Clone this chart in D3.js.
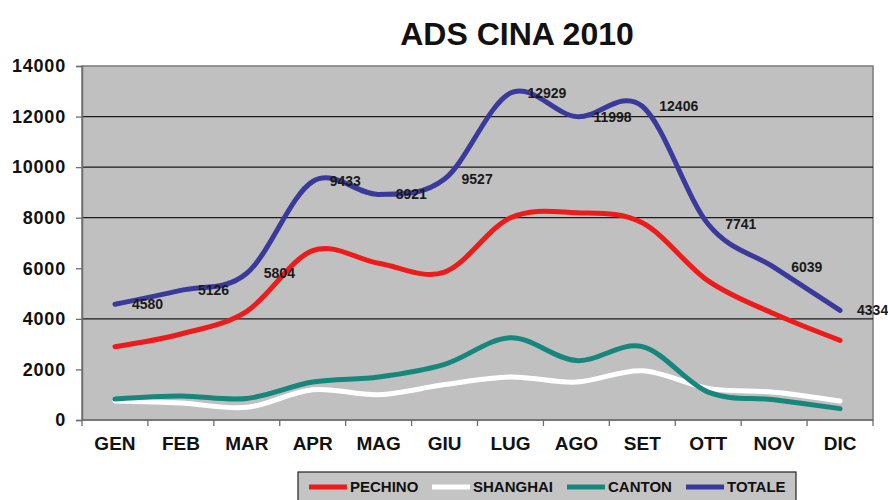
<!DOCTYPE html>
<html>
<head>
<meta charset="utf-8">
<script src="https://cdn.jsdelivr.net/npm/d3@7"></script>
<style>
  html, body { margin: 0; padding: 0; background: #fff; }
  svg { display: block; font-family: "Liberation Sans", Arial, sans-serif; }
</style>
</head>
<body>
<svg id="chart" width="888" height="500"></svg>
<script>
// Monthly arrivals per city, 2010
const months = ["GEN", "FEB", "MAR", "APR", "MAG", "GIU", "LUG", "AGO", "SET", "OTT", "NOV", "DIC"];
const pechino  = [2900, 3400, 4300, 6700, 6200, 5850, 8000, 8200, 7800, 5500, 4200, 3150];
const shanghai = [750, 670, 500, 1200, 1000, 1400, 1700, 1500, 1950, 1250, 1100, 750];
const canton   = [830, 950, 850, 1500, 1700, 2200, 3250, 2350, 2900, 1100, 800, 450];
const totale   = [4580, 5126, 5804, 9433, 8921, 9527, 12929, 11998, 12406, 7741, 6039, 4334];
const yTicks = [0, 2000, 4000, 6000, 8000, 10000, 12000, 14000];
const gridValues = [4000, 8000, 10000, 12000];

const series = [
  { name: "PECHINO",  values: pechino,  color: "#ee1b1b" },
  { name: "SHANGHAI", values: shanghai, color: "#ffffff" },
  { name: "CANTON",   values: canton,   color: "#17867d" },
  { name: "TOTALE",   values: totale,   color: "#3a3a9c" }
];

const svg = d3.select("#chart");
const plot = { left: 82, right: 873, top: 66, bottom: 420 };

const x = d3.scaleBand().domain(months).range([plot.left, plot.right]).padding(0);
const y = d3.scaleLinear().domain([0, 14000]).range([plot.bottom, plot.top]);
const cx = m => x(m) + x.bandwidth() / 2;

// Title
svg.append("text")
  .attr("x", 517).attr("y", 45)
  .attr("text-anchor", "middle")
  .attr("font-size", 32).attr("font-weight", "bold")
  .attr("fill", "#111")
  .text("ADS CINA 2010");

// Plot background
svg.append("rect")
  .attr("x", plot.left).attr("y", plot.top)
  .attr("width", plot.right - plot.left).attr("height", plot.bottom - plot.top)
  .attr("fill", "#c0c0c0")
  .attr("stroke", "#7a7a7a").attr("stroke-width", 1.5);

// Horizontal gridlines
svg.append("g").selectAll("line").data(gridValues).join("line")
  .attr("x1", plot.left).attr("x2", plot.right)
  .attr("y1", d => y(d)).attr("y2", d => y(d))
  .attr("stroke", "#1a1a1a").attr("stroke-width", 1.3);

// Y axis
const yAxis = svg.append("g")
  .attr("transform", `translate(${plot.left},0)`)
  .call(d3.axisLeft(y).tickValues(yTicks).tickSize(6).tickPadding(10).tickFormat(d3.format("d")));
yAxis.select(".domain").attr("stroke", "#6e6e6e").attr("stroke-width", 1.5);
yAxis.selectAll(".tick line").attr("stroke", "#6e6e6e").attr("stroke-width", 1.3);
yAxis.selectAll(".tick text")
  .attr("font-size", 18).attr("font-weight", "bold").attr("fill", "#111")
  .attr("letter-spacing", 0.8)
  .attr("font-family", "'Liberation Sans', Arial, sans-serif");

// X axis: ticks at category boundaries
const xAxisG = svg.append("g").attr("transform", `translate(0,${plot.bottom})`);
xAxisG.append("line")
  .attr("x1", plot.left).attr("x2", plot.right)
  .attr("stroke", "#6e6e6e").attr("stroke-width", 1.5);
const bounds = months.map(m => x(m)).concat([plot.right]);
xAxisG.selectAll("line.tk").data(bounds).join("line").attr("class", "tk")
  .attr("x1", d => d).attr("x2", d => d).attr("y1", 0).attr("y2", 6)
  .attr("stroke", "#6e6e6e").attr("stroke-width", 1.3);
xAxisG.selectAll("text").data(months).join("text")
  .attr("x", d => cx(d)).attr("y", 30)
  .attr("text-anchor", "middle")
  .attr("font-size", 19).attr("font-weight", "bold").attr("fill", "#111")
  .text(d => d);

// Smoothed series lines
const line = d3.line()
  .x((d, i) => cx(months[i]))
  .y(d => y(d))
  .curve(d3.curveCardinal.tension(0));

svg.append("g").selectAll("path").data(series).join("path")
  .attr("d", s => line(s.values))
  .attr("fill", "none")
  .attr("stroke", s => s.color)
  .attr("stroke-width", 5)
  .attr("stroke-linecap", "round")
  .attr("stroke-linejoin", "round");

// Value labels for the total
svg.append("g").selectAll("text").data(totale).join("text")
  .attr("x", (d, i) => cx(months[i]) + 17)
  .attr("y", d => y(d))
  .attr("dy", "0.35em")
  .attr("font-size", 14).attr("font-weight", "bold").attr("fill", "#1a1a1a")
  .text(d => d);

// Legend
const legend = svg.append("g");
legend.append("rect")
  .attr("x", 298).attr("y", 472).attr("width", 498).attr("height", 40)
  .attr("fill", "#c4c4c4").attr("stroke", "#222").attr("stroke-width", 1.2);
const legendX = [309, 432, 567, 686];
series.forEach((s, i) => {
  const lx = legendX[i];
  legend.append("line")
    .attr("x1", lx).attr("x2", lx + 38)
    .attr("y1", 487).attr("y2", 487)
    .attr("stroke", s.color).attr("stroke-width", 5);
  legend.append("text")
    .attr("x", lx + 41).attr("y", 487).attr("dy", "0.35em")
    .attr("font-size", 15).attr("font-weight", "bold").attr("fill", "#111")
    .text(s.name);
});
</script>
</body>
</html>
